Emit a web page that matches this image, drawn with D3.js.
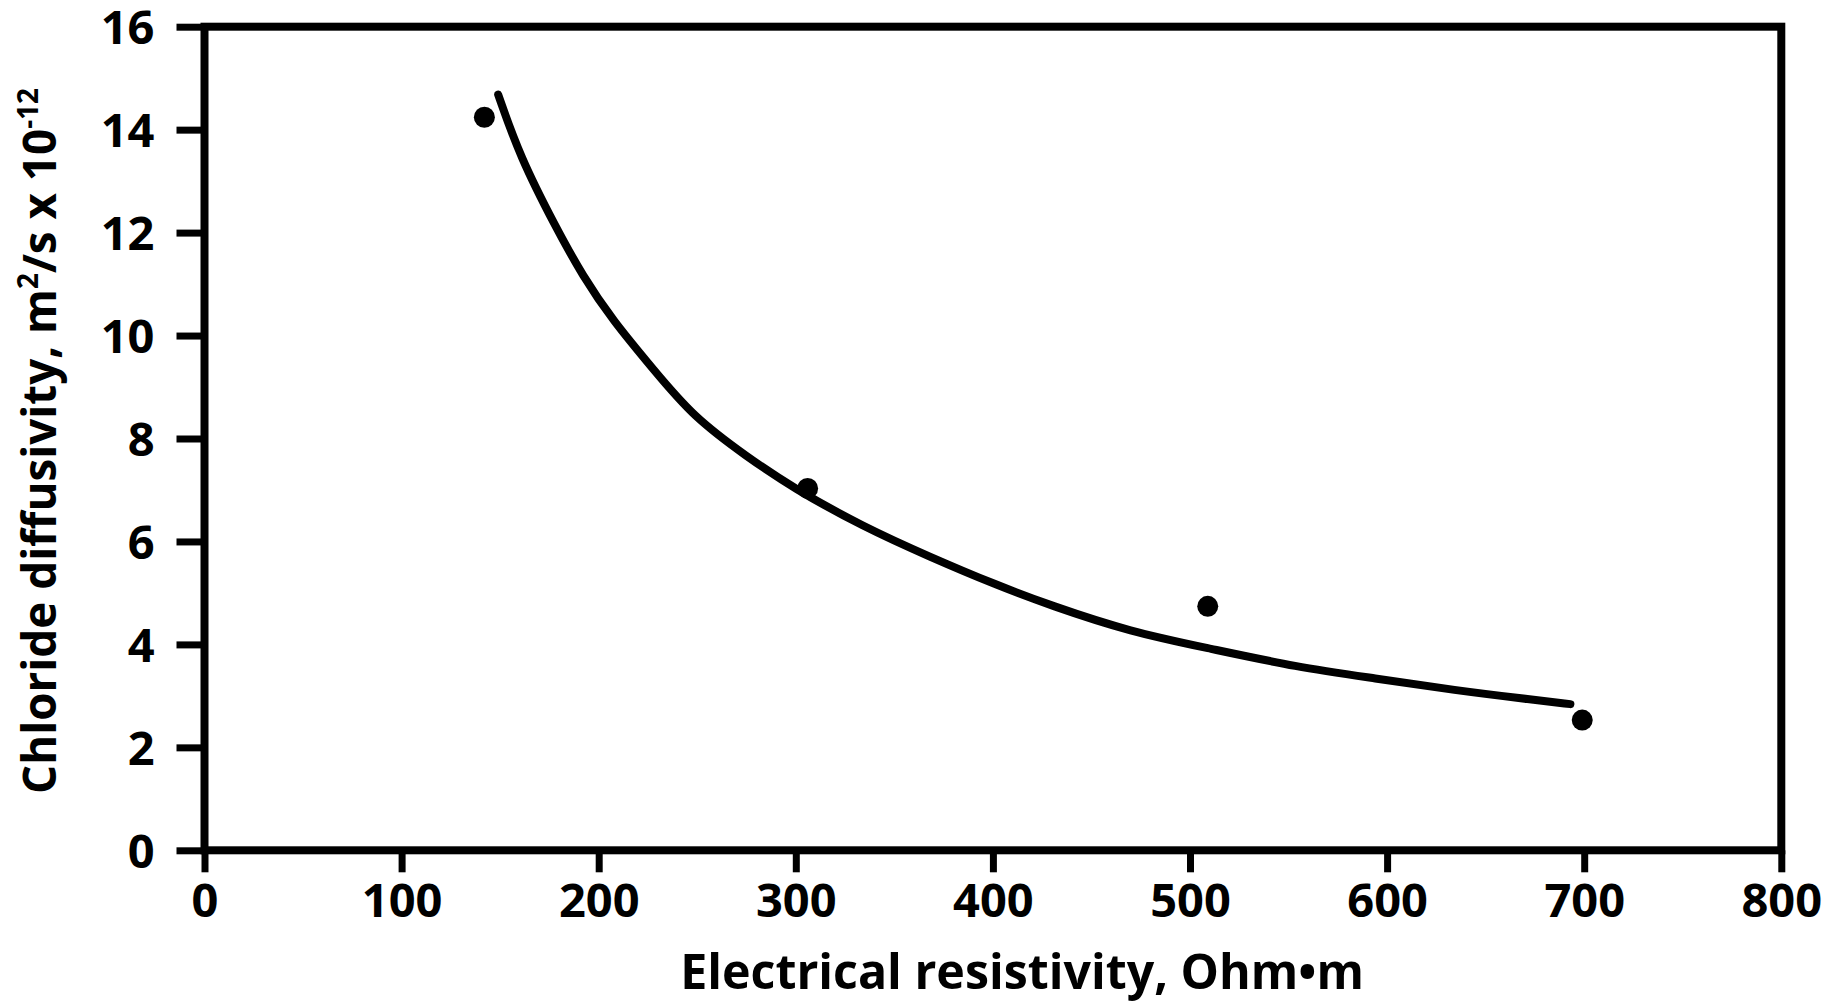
<!DOCTYPE html>
<html>
<head>
<meta charset="utf-8">
<script src="https://cdn.jsdelivr.net/npm/d3@7"></script>
<style>
  html, body { margin: 0; padding: 0; background: #fff; }
  svg { display: block; font-family: "Open Sans", sans-serif; font-weight: 700; }
</style>
</head>
<body>
<svg id="chart" width="1839" height="1003"></svg>
<script>
// measured points
var resistivity = [142, 306, 509, 699];
var diffusivity = [14.24, 7.03, 4.74, 2.53];

// fitted curve
var fitX = [149, 160, 178, 192, 207, 228, 248, 275, 299, 334, 368, 402, 429, 470, 510, 554, 594, 634, 675, 693];
var fitY = [14.68, 13.48, 12.12, 11.15, 10.30, 9.33, 8.42, 7.65, 7.03, 6.29, 5.70, 5.15, 4.76, 4.24, 3.92, 3.56, 3.34, 3.11, 2.92, 2.84];

var xTicks = [0, 100, 200, 300, 400, 500, 600, 700, 800];
var yTicks = [0, 2, 4, 6, 8, 10, 12, 14, 16];

var svg = d3.select("#chart");
// plot box (note: "top" is taken by window.top)
var plotL = 204.5, plotR = 1781.3, plotT = 26.7, plotB = 850.3;

var x = d3.scaleLinear().domain([0, 800]).range([plotL, plotR]);
var y = d3.scaleLinear().domain([0, 16]).range([plotB, plotT]);

// axes (ticks only, frame drawn separately)
var gx = svg.append("g")
  .attr("transform", "translate(0," + plotB + ")")
  .call(d3.axisBottom(x).tickValues(xTicks).tickSize(22).tickSizeOuter(0));
gx.select(".domain").remove();
gx.selectAll(".tick line").attr("stroke", "#000").attr("stroke-width", 7);
gx.selectAll(".tick text")
  .attr("y", 66.7).attr("dy", 0)
  .attr("font-size", 47).attr("font-family", "Open Sans").attr("font-weight", 700)
  .attr("fill", "#000");

var gy = svg.append("g")
  .attr("transform", "translate(" + plotL + ",0)")
  .call(d3.axisLeft(y).tickValues(yTicks).tickSize(28).tickPadding(22).tickSizeOuter(0));
gy.select(".domain").remove();
gy.selectAll(".tick line").attr("stroke", "#000").attr("stroke-width", 7);
gy.selectAll(".tick text")
  .attr("dy", "0.36em")
  .attr("font-size", 47).attr("font-family", "Open Sans").attr("font-weight", 700)
  .attr("fill", "#000");

// frame
svg.append("rect")
  .attr("x", plotL).attr("y", plotT)
  .attr("width", plotR - plotL).attr("height", plotB - plotT)
  .attr("fill", "none").attr("stroke", "#000").attr("stroke-width", 8);

// fitted curve
var line = d3.line()
  .x(function(d, i) { return x(fitX[i]); })
  .y(function(d) { return y(d); })
  .curve(d3.curveBasis);

svg.append("path")
  .attr("d", line(fitY))
  .attr("fill", "none").attr("stroke", "#000")
  .attr("stroke-width", 8).attr("stroke-linecap", "round");

// data points
svg.selectAll("circle.pt")
  .data(diffusivity)
  .enter()
  .append("circle")
  .attr("class", "pt")
  .attr("cx", function(d, i) { return x(resistivity[i]); })
  .attr("cy", function(d) { return y(d); })
  .attr("r", 10.5)
  .attr("fill", "#000");

// squeeze a label to the width it has in the picture
function fit(text, width) {
  var w = text.node().getComputedTextLength();
  text.attr("transform", "scale(" + (width / w) + ",1)");
}

// x label
var xl = svg.append("g").attr("transform", "translate(1022,989)");
var xt = xl.append("text")
  .attr("text-anchor", "middle")
  .attr("font-size", 48)
  .attr("fill", "#000")
  .text("Electrical resistivity, Ohm\u2022m");
fit(xt, 684);

// y label
var yl = svg.append("g").attr("transform", "translate(56,441) rotate(-90)");
var yt = yl.append("text")
  .attr("text-anchor", "middle")
  .attr("font-size", 46)
  .attr("fill", "#000");
yt.append("tspan").text("Chloride diffusivity, m");
yt.append("tspan").attr("font-size", 28).attr("dy", -18).text("2");
yt.append("tspan").attr("dy", 18).text("/s x 10");
yt.append("tspan").attr("font-size", 28).attr("dy", -18).text("-12");
fit(yt, 706);
</script>
</body>
</html>
